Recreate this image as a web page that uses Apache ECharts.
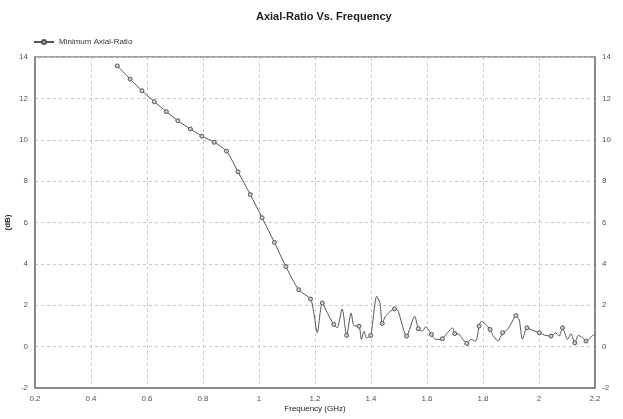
<!DOCTYPE html>
<html>
<head>
<meta charset="utf-8">
<script src="https://cdn.jsdelivr.net/npm/echarts@6/dist/echarts.min.js"></script>
<style>
  html, body { margin: 0; padding: 0; background: #fff; }
  #main { width: 623px; height: 419px; }
</style>
</head>
<body>
<div id="main"></div>
<script>
// frequency (GHz) and minimum axial ratio (dB)
var freq = [
  0.494, 0.540, 0.582, 0.626, 0.669, 0.710, 0.755, 0.796, 0.840, 0.884,
  0.925, 0.969, 1.011, 1.055, 1.096, 1.142, 1.184, 1.195, 1.208, 1.226,
  1.245, 1.267, 1.279, 1.297, 1.313, 1.329, 1.339, 1.357, 1.366, 1.375,
  1.384, 1.399, 1.410, 1.420, 1.432, 1.440, 1.452, 1.484, 1.496, 1.527,
  1.556, 1.569, 1.584, 1.595, 1.616, 1.631, 1.655, 1.673, 1.691, 1.699,
  1.714, 1.727, 1.742, 1.756, 1.774, 1.786, 1.794, 1.810, 1.825, 1.837,
  1.854, 1.870, 1.888, 1.905, 1.917, 1.929, 1.941, 1.957, 1.971, 1.985,
  2.001, 2.019, 2.043, 2.060, 2.072, 2.084, 2.102, 2.114, 2.128, 2.140,
  2.156, 2.168, 2.180, 2.192, 2.200
];
var axialRatio = [
  13.57, 12.93, 12.37, 11.84, 11.36, 10.92, 10.52, 10.17, 9.88, 9.45,
  8.45, 7.35, 6.23, 5.04, 3.87, 2.75, 2.30, 1.70, 0.67, 2.11,
  1.60, 1.07, 0.91, 1.82, 0.54, 1.63, 1.02, 0.99, 0.35, 0.75,
  0.43, 0.54, 1.63, 2.43, 2.11, 1.12, 1.47, 1.82, 1.75, 0.51,
  1.47, 0.87, 0.75, 0.96, 0.59, 0.35, 0.38, 0.67, 0.91, 0.63,
  0.60, 0.38, 0.15, 0.35, 0.27, 0.99, 1.23, 1.07, 0.83, 0.51,
  0.27, 0.67, 0.83, 1.23, 1.50, 1.31, 0.35, 0.91, 0.83, 0.75,
  0.67, 0.56, 0.51, 0.67, 0.51, 0.91, 0.35, 0.63, 0.18, 0.54,
  0.43, 0.27, 0.38, 0.54, 0.59
];
// 1 = a marker is drawn at that sample
var marked = [
  1, 1, 1, 1, 1, 1, 1, 1, 1, 1,
  1, 1, 1, 1, 1, 1, 1, 0, 0, 1,
  0, 1, 0, 0, 1, 0, 0, 1, 0, 0,
  0, 1, 0, 0, 0, 1, 0, 1, 0, 1,
  0, 1, 0, 0, 1, 0, 1, 0, 0, 1,
  0, 0, 1, 0, 0, 1, 0, 0, 1, 0,
  0, 1, 0, 0, 1, 0, 0, 1, 0, 0,
  1, 0, 1, 0, 0, 1, 0, 0, 1, 0,
  0, 1, 0, 0, 0
];

var font = '"Liberation Sans Narrow", "Liberation Sans", Arial, sans-serif';

var points = freq.map(function (f, i) {
  var item = { value: [f, axialRatio[i]] };
  if (!marked[i]) item.symbol = 'none';
  return item;
});

var chart = echarts.init(document.getElementById('main'));

function yAxis(pos) {
  return {
    type: 'value',
    position: pos,
    min: -2,
    max: 14,
    interval: 2,
    name: pos === 'left' ? '(dB)' : '',
    nameLocation: 'middle',
    nameGap: 23,
    nameMoveOverlap: false,
    nameTextStyle: { fontFamily: font, fontSize: 8, fontWeight: 'bold', color: '#222' },
    axisLine: { show: true, lineStyle: { color: '#888', width: 2 } },
    axisTick: { show: false },
    axisLabel: { fontFamily: font, fontSize: 8, color: '#555', margin: 7 },
    splitLine: { show: pos === 'left', lineStyle: { color: '#c8c8c8', type: [3, 3] } }
  };
}

chart.setOption({
  animation: false,
  title: {
    text: 'Axial-Ratio Vs. Frequency',
    left: 251,
    top: 6,
    textStyle: { fontFamily: font, fontSize: 11, fontWeight: 'bold', color: '#222' }
  },
  legend: {
    left: 28,
    top: 33,
    itemWidth: 20,
    itemHeight: 5,
    itemGap: 8,
    textStyle: { fontFamily: font, fontSize: 8, color: '#333' },
    data: ['Minimum Axial-Ratio']
  },
  grid: {
    left: 35,
    right: 28,
    top: 57,
    bottom: 31,
    outerBoundsMode: 'none',
    show: true,
    borderColor: '#444',
    borderWidth: 1
  },
  xAxis: {
    type: 'value',
    min: 0.2,
    max: 2.2,
    interval: 0.2,
    name: 'Frequency (GHz)',
    nameLocation: 'middle',
    nameGap: 17,
    nameMoveOverlap: false,
    nameTextStyle: { fontFamily: font, fontSize: 8, color: '#222' },
    axisLine: { show: true, onZero: false, lineStyle: { color: '#888', width: 2 } },
    axisTick: { show: false },
    axisLabel: {
      fontFamily: font, fontSize: 8, color: '#555', margin: 7,
      formatter: function (v) { return String(Math.round(v * 10) / 10); }
    },
    splitLine: { show: true, lineStyle: { color: '#c8c8c8', type: [3, 3] } }
  },
  yAxis: [yAxis('left'), yAxis('right')],
  series: [
    {
      name: 'Minimum Axial-Ratio',
      type: 'line',
      data: points,
      smooth: 0.25,
      symbol: 'circle',
      symbolSize: 4,
      showAllSymbol: true,
      lineStyle: { color: '#555', width: 1 },
      itemStyle: { color: '#ccc', borderColor: '#555', borderWidth: 1 }
    }
  ]
});
</script>
</body>
</html>
